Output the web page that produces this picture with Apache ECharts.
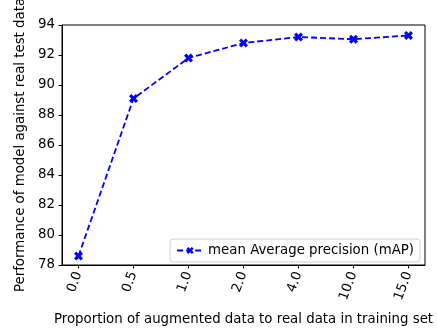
<!DOCTYPE html>
<html>
<head>
<meta charset="utf-8">
<script src="https://cdn.jsdelivr.net/npm/echarts@6/dist/echarts.min.js"></script>
<style>html,body{margin:0;padding:0;background:#fff}#c{width:437px;height:331px}</style>
</head>
<body>
<div id="c"></div>
<script>
const categories = ['0.0', '0.5', '1.0', '2.0', '4.0', '10.0', '15.0'];
const mapValues = [78.6, 89.1, 91.8, 92.8, 93.2, 93.05, 93.3];
const seriesName = 'mean Average precision (mAP)';
const yTicks = [78, 80, 82, 84, 86, 88, 90, 92, 94];

const xMarker = 'path://M0,1.5 L1.5,0 L3,1.5 L4.5,0 L6,1.5 L4.5,3 L6,4.5 L4.5,6 L3,4.5 L1.5,6 L0,4.5 L1.5,3 Z';
const font = 'DejaVu Sans';
const fs = 13.33;
const chart = echarts.init(document.getElementById('c'));
chart.setOption({
  animation: false,
  textStyle: { fontFamily: font },
  grid: { left: 62, right: 12, top: 25, bottom: 66, outerBoundsMode: 'none', containLabel: false,
    show: true, borderColor: '#000', borderWidth: 1, backgroundColor: 'transparent' },
  legend: {
    show: true, right: 17, bottom: 69, orient: 'horizontal',
    backgroundColor: '#fff', borderColor: '#d0d0d0', borderWidth: 1, borderRadius: 3,
    padding: [5, 6, 5, 6], itemWidth: 26, itemHeight: 9, itemGap: 6,
    textStyle: { fontFamily: font, fontSize: fs, color: '#000' },
    data: [seriesName]
  },
  xAxis: {
    type: 'value', min: -0.3, max: 6.3, interval: 1,
    splitLine: { show: false },
    axisLine: { show: true, onZero: false, lineStyle: { color: '#000', width: 1 } },
    axisTick: { show: true, length: 3.5, lineStyle: { color: '#000' }, customValues: categories.map((c, i) => i) },
    axisLabel: { show: true, rotate: 70, margin: 7, fontSize: fs, color: '#000', fontFamily: font,
      customValues: categories.map((c, i) => i),
      formatter: v => categories[Math.round(v)] !== undefined ? categories[Math.round(v)] : '' },
    name: 'Proportion of augmented data to real data in training set',
    nameLocation: 'middle', nameGap: 48,
    nameTextStyle: { fontSize: fs, color: '#000', fontFamily: font }
  },
  yAxis: {
    type: 'value', min: 78, max: 94, interval: 2,
    splitLine: { show: false },
    axisLine: { show: true, onZero: false, lineStyle: { color: '#000', width: 1 } },
    axisTick: { show: true, length: 3.5, lineStyle: { color: '#000' } },
    axisLabel: { margin: 7, fontSize: fs, color: '#000', fontFamily: font },
    name: 'Performance of model against real test data',
    nameLocation: 'middle', nameGap: 34,
    nameTextStyle: { fontSize: fs, color: '#000', fontFamily: font }
  },
  series: [{
    name: seriesName, type: 'line',
    data: mapValues.map((v, i) => [i, v]),
    symbol: xMarker, symbolSize: 9,
    itemStyle: { color: '#0000ff' },
    lineStyle: { color: '#0000ff', width: 1.8, type: [6, 3] }
  }]
});
</script>
</body>
</html>
